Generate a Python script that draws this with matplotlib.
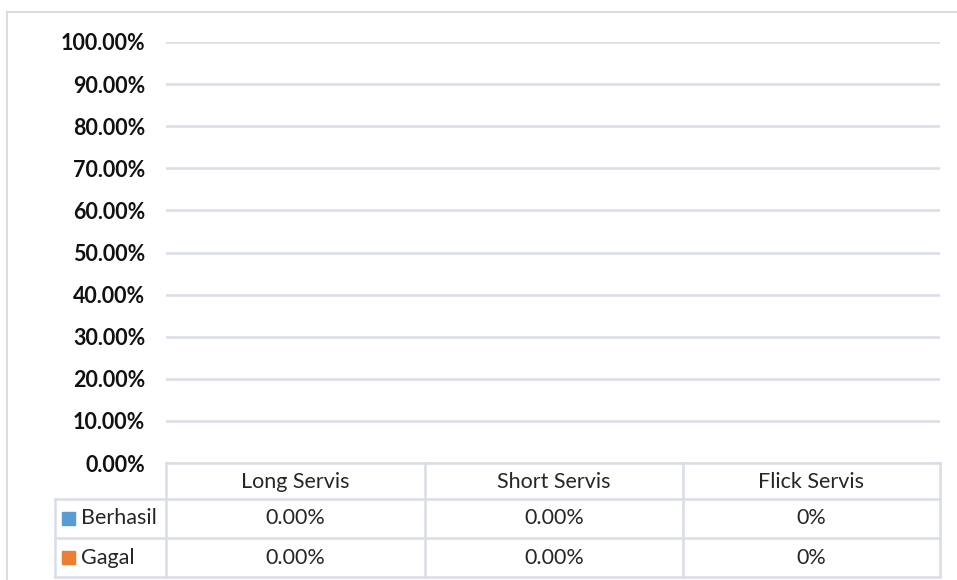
import matplotlib.pyplot as plt
from matplotlib.patches import Rectangle

categories = ["Long Servis", "Short Servis", "Flick Servis"]
series_names = ["Berhasil", "Gagal"]
berhasil = [0.0, 0.0, 0.0]
gagal = [0.0, 0.0, 0.0]
table_text = [["0.00%", "0.00%", "0%"],
              ["0.00%", "0.00%", "0%"]]
colors = ["#5B9BD5", "#ED7D31"]
grid_color = "#D9DEE6"

W, H = 957, 580
fig = plt.figure(figsize=(W / 100, H / 100), dpi=100)
fig.patch.set_facecolor("white")

def fx(px):
    return px / W

def fy(py):
    return 1 - py / H

# outer chart border (runs off the image to the right and bottom)
fig.patches.append(Rectangle((fx(7), fy(600)), fx(1000), fy(12) - fy(600),
                             transform=fig.transFigure, fill=False,
                             edgecolor="#D9DCE1", lw=1.5))

# plot area
ax = fig.add_axes([fx(166), fy(463), fx(940) - fx(166), fy(42) - fy(463)])
x = list(range(len(categories)))
ax.bar([i - 0.2 for i in x], berhasil, width=0.35, color=colors[0])
ax.bar([i + 0.2 for i in x], gagal, width=0.35, color=colors[1])
ax.set_xlim(-0.5, len(categories) - 0.5)
ax.set_ylim(0, 1.0)
ticks = [i / 10 for i in range(11)]
ax.set_yticks(ticks)
ax.set_yticklabels([f"{t * 100:.2f}%" for t in ticks], fontweight="bold",
                   fontsize=15.5, family="Lato", color="#111111")
ax.tick_params(axis="y", length=0, pad=15)
ax.set_xticks([])
ax.grid(axis="y", color=grid_color, lw=1.8)
ax.set_axisbelow(True)
for s in ax.spines.values():
    s.set_visible(False)

# data table below the plot
tx = [55, 166, 425, 683, 940]
ty = [463, 499, 538, 577]
tab = fig.add_axes([0, 0, 1, 1], facecolor="none")
tab.set_xlim(0, W)
tab.set_ylim(H, 0)
tab.axis("off")
lk = dict(color=grid_color, lw=1.8)
# header row lines
tab.plot([tx[1], tx[4]], [ty[0], ty[0]], **lk)
for y in ty[1:]:
    tab.plot([tx[0], tx[4]], [y, y], **lk)
tab.plot([tx[0], tx[0]], [ty[1], ty[3]], **lk)
for xv in tx[1:]:
    tab.plot([xv, xv], [ty[0], ty[3]], **lk)

font = dict(family="Lato", fontsize=15.5, color="#262626")
for j, cat in enumerate(categories):
    tab.text((tx[j + 1] + tx[j + 2]) / 2, (ty[0] + ty[1]) / 2 + 1, cat,
             ha="center", va="center", **font)
for i, name in enumerate(series_names):
    yc = (ty[i + 1] + ty[i + 2]) / 2
    tab.add_patch(Rectangle((62, yc - 6.5), 13, 13, color=colors[i]))
    tab.text(81, yc, name, ha="left", va="center", **font)
    for j in range(len(categories)):
        tab.text((tx[j + 1] + tx[j + 2]) / 2, yc, table_text[i][j],
                 ha="center", va="center", **font)

fig.savefig("out.png", dpi=100)
